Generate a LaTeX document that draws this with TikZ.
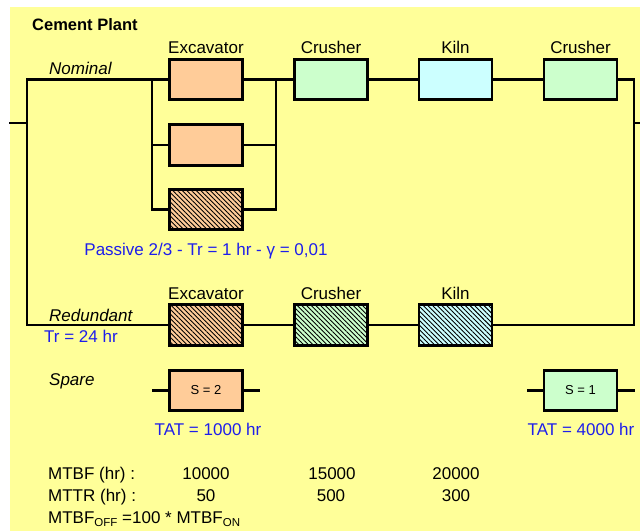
\documentclass[tikz,border=0pt]{standalone}
\usepackage{fontspec}
\setmainfont{Liberation Sans}
\usetikzlibrary{patterns.meta}
\definecolor{bgyel}{HTML}{FFFF99}
\definecolor{excc}{HTML}{FFCC99}
\definecolor{cruc}{HTML}{CCFFCC}
\definecolor{kilc}{HTML}{CCFFFF}
\definecolor{txtblue}{RGB}{30,30,235}
\tikzset{
  blk/.style={draw=black, line width=2.9pt, minimum width=73pt, minimum height=40.5pt, inner sep=0pt},
  hatched/.style={pattern={Lines[angle=-45,distance=3.3pt,line width=0.9pt]}, pattern color=black},
  wire/.style={line width=2.7pt, line cap=rect},
  lbl/.style={font=\fontsize{17}{20}\selectfont, inner sep=0pt, anchor=base},
  lbll/.style={font=\fontsize{17}{20}\selectfont, inner sep=0pt, anchor=base west},
  small/.style={font=\fontsize{13}{15}\selectfont},
}
\begin{document}
\begin{tikzpicture}[x=1pt,y=-1pt]
\useasboundingbox (0,0) rectangle (640,531);
\fill[bgyel] (10,7) rectangle (640,531);
% boxes
\node[blk, fill=excc] (e1) at (206,79.5) {};
\node[blk, fill=excc] (e2) at (206,145) {};
\node[blk, hatched, preaction={fill=excc}] (e3) at (206,209.5) {};
\node[blk, fill=cruc] (c1) at (331,79.5) {};
\node[blk, fill=kilc] (k1) at (455.5,79.5) {};
\node[blk, fill=cruc] (c2) at (580.5,79.5) {};
\node[blk, hatched, preaction={fill=excc}] (re) at (206,325) {};
\node[blk, hatched, preaction={fill=cruc}] (rc) at (331,325) {};
\node[blk, hatched, preaction={fill=kilc}] (rk) at (455.5,325) {};
\node[blk, fill=excc, small] (s2) at (206,390.5) {S = 2};
\node[blk, fill=cruc, small] (s1) at (580.5,390.5) {S = 1};
% coordinates
\coordinate (inL) at (10,123);
\coordinate (jL) at (27,123);
\coordinate (tL) at (27,79.5);
\coordinate (bL) at (27,325);
\coordinate (b1) at (152,79.5);
\coordinate (b2) at (152,145);
\coordinate (b3) at (152,209.5);
\coordinate (d1) at (276,79.5);
\coordinate (d2) at (276,145);
\coordinate (d3) at (276,209.5);
\coordinate (tR) at (634,79.5);
\coordinate (bR) at (634,325);
\coordinate (jR) at (634,123);
\coordinate (outR) at (640,123);
\coordinate (s2a) at (152,390.5);
\coordinate (s2b) at (260,390.5);
\coordinate (s1a) at (527,390.5);
\coordinate (s1b) at (635,390.5);
% wires
\draw[wire] (inL) -- (jL);
\draw[wire, line cap=butt] (bL) -- (tL) -- (b1);
\draw[wire] (b1) -- (e1.west);
\draw[wire] (b1) -- (b3);
\draw[wire] (d1) -- (d3);
\draw[wire] (b2) -- (e2.west);
\draw[wire] (e2.east) -- (d2);
\draw[wire] (b3) -- (e3.west);
\draw[wire] (e3.east) -- (d3);
\draw[wire] (e1.east) -- (c1.west);
\draw[wire] (c1.east) -- (k1.west);
\draw[wire] (k1.east) -- (c2.west);
\draw[wire, line cap=butt] (c2.east) -- (tR) -- (bR) -- (rk.east);
\draw[wire] (jR) -- (outR);
\draw[wire] (bL) -- (re.west);
\draw[wire] (re.east) -- (rc.west);
\draw[wire] (rc.east) -- (rk.west);
\draw[wire, line cap=butt] (s2a) -- (s2.west);
\draw[wire, line cap=butt] (s2.east) -- (s2b);
\draw[wire, line cap=butt] (s1a) -- (s1.west);
\draw[wire, line cap=butt] (s1.east) -- (s1b);
% labels
\node[lbll, font=\fontsize{16.5}{20}\selectfont\bfseries] (title) at (32,30) {Cement Plant};
\node[lbl] (le1) at (206,53) {Excavator};
\node[lbl] (lc1) at (331,53) {Crusher};
\node[lbl] (lk1) at (455.5,53) {Kiln};
\node[lbl] (lc2) at (580.5,53) {Crusher};
\node[lbll, font=\fontsize{17}{20}\selectfont\itshape] (nom) at (49,74) {Nominal};
\node[lbl, text=txtblue] (pas) at (206,255) {Passive 2/3 - Tr = 1 hr - γ = 0,01};
\node[lbl] (lre) at (206,299) {Excavator};
\node[lbl] (lrc) at (331,299) {Crusher};
\node[lbl] (lrk) at (455.5,299) {Kiln};
\node[lbll, font=\fontsize{17}{20}\selectfont\itshape] (red) at (49,321) {Redundant};
\node[lbll, text=txtblue] (tr24) at (44,342) {Tr = 24 hr};
\node[lbll, font=\fontsize{17}{20}\selectfont\itshape] (spa) at (49,385) {Spare};
\node[lbl, text=txtblue] (tat1) at (208,435) {TAT = 1000 hr};
\node[lbl, text=txtblue] (tat2) at (581,435) {TAT = 4000 hr};
\node[lbll] (mtbf) at (48,479) {MTBF (hr) :};
\node[lbl] (m1) at (206,479) {10000};
\node[lbl] (m2) at (332,479) {15000};
\node[lbl] (m3) at (456,479) {20000};
\node[lbll] (mttr) at (48,501) {MTTR (hr) :};
\node[lbl] (r1) at (206,501) {50};
\node[lbl] (r2) at (331,501) {500};
\node[lbl] (r3) at (456,501) {300};
\node[lbll] (off) at (48,523) {MTBF\raisebox{-3.5pt}{\fontsize{11.5}{12}\selectfont OFF} =100 * MTBF\raisebox{-3.5pt}{\fontsize{11.5}{12}\selectfont ON}};
\end{tikzpicture}
\end{document}
